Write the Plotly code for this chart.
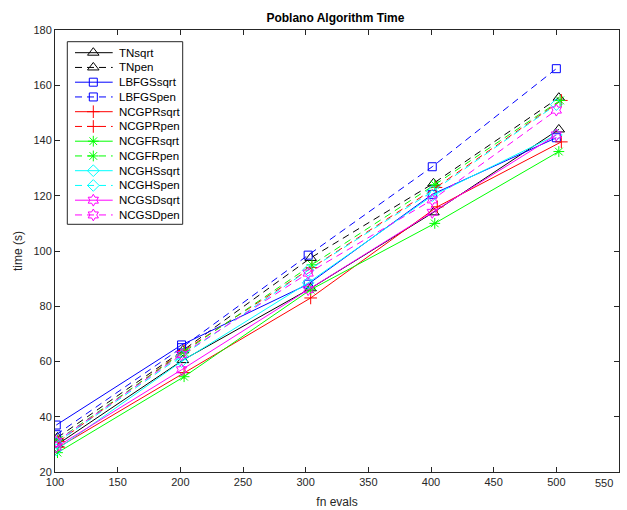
import plotly.graph_objects as go

# ---- data ----
names = ["TNsqrt", "TNpen", "LBFGSsqrt", "LBFGSpen", "NCGPRsqrt", "NCGPRpen",
         "NCGFRsqrt", "NCGFRpen", "NCGHSsqrt", "NCGHSpen", "NCGSDsqrt", "NCGSDpen"]

x_TNsqrt = [102, 202, 304, 402, 502]
x_TNpen = [102, 202, 304, 402, 502]
x_LBFGSsqrt = [101, 201, 302, 401, 500]
x_LBFGSpen = [101, 201, 302, 401, 500]
x_NCGPRsqrt = [103, 203, 304, 405, 504]
x_NCGPRpen = [103, 203, 305, 404, 504]
x_NCGFRsqrt = [102, 203, 304, 403, 502]
x_NCGFRpen = [102, 203, 305, 403, 503]
x_NCGHSsqrt = [101, 201, 302, 401, 500]
x_NCGHSpen = [101, 201, 302, 401, 500]
x_NCGSDsqrt = [101, 201, 302, 401, 500]
x_NCGSDpen = [101, 201, 302, 401, 500]

y_TNsqrt = [30, 60.5, 86.5, 114, 144]
y_TNpen = [32.5, 64, 97.5, 124.5, 155.5]
y_LBFGSsqrt = [37, 66, 88, 120.5, 141]
y_LBFGSpen = [33.5, 65, 98.5, 130.5, 166]
y_NCGPRsqrt = [29, 56, 83, 116, 139.5]
y_NCGPRpen = [31, 64, 94, 123, 154.5]
y_NCGFRsqrt = [27, 54.5, 86, 110, 136]
y_NCGFRpen = [31.5, 63.5, 95, 124, 154.5]
y_NCGHSsqrt = [28, 60, 88.5, 120, 142]
y_NCGHSpen = [30.5, 62, 93, 121.5, 153]
y_NCGSDsqrt = [29, 57, 86, 114, 142]
y_NCGSDpen = [31, 62.5, 92, 118.5, 151]

xs = [x_TNsqrt, x_TNpen, x_LBFGSsqrt, x_LBFGSpen, x_NCGPRsqrt, x_NCGPRpen,
      x_NCGFRsqrt, x_NCGFRpen, x_NCGHSsqrt, x_NCGHSpen, x_NCGSDsqrt, x_NCGSDpen]
ys = [y_TNsqrt, y_TNpen, y_LBFGSsqrt, y_LBFGSpen, y_NCGPRsqrt, y_NCGPRpen,
      y_NCGFRsqrt, y_NCGFRpen, y_NCGHSsqrt, y_NCGHSpen, y_NCGSDsqrt, y_NCGSDpen]

x_ticks = [100, 150, 200, 250, 300, 350, 400, 450, 500, 550]
x_ticktext = ["100", "150", "200", "250", "300", "350", "400", "450", "500", ""]
last_x_label = "550"
y_ticks = [20, 40, 60, 80, 100, 120, 140, 160, 180]

# ---- styles ----
FONT = "Liberation Sans, Arial, sans-serif"
colors = ["#000000", "#000000", "#0000ff", "#0000ff", "#ff0000", "#ff0000",
          "#00ff00", "#00ff00", "#00ffff", "#00ffff", "#ff00ff", "#ff00ff"]
symbols = ["triangle-up-open", "triangle-up-open", "square-open", "square-open",
           "cross-thin-open", "cross-thin-open", "asterisk-open", "asterisk-open",
           "diamond-open", "diamond-open", "hexagram-open", "hexagram-open"]
sizes = [10, 10, 8, 8, 9, 9, 9, 9, 9, 9, 9, 9]
dashes = ["solid", "7px,5px"] * 6

# plot area in pixels
PL, PR, PT, PB = 55, 619, 30, 472
W, H = 627, 510

fig = go.Figure()
for n, x, y, c, s, sz, d in zip(names, xs, ys, colors, symbols, sizes, dashes):
    fig.add_trace(go.Scatter(
        x=x, y=y, name=n, mode="lines+markers", showlegend=False,
        line=dict(color=c, width=1, dash=d),
        marker=dict(symbol=s, size=sz, color=c, line=dict(color=c, width=1)),
    ))

# ---- compact legend drawn on an overlay axis measured in pixels ----
L_X0, L_X1, L_Y0, L_Y1 = 67.3, 182.7, 41.7, 224.3
ROW0, ROWSTEP = 52.7, 14.75
SAMPLE_X0, SAMPLE_X1, MARK_X, TEXT_X = 75, 112.7, 93.3, 116.5

fig.add_shape(type="rect", xref="x2", yref="y2", x0=L_X0, x1=L_X1, y0=L_Y0, y1=L_Y1,
              line=dict(color="#262626", width=1), fillcolor="white", layer="below")
for i, (n, c, s, sz, d) in enumerate(zip(names, colors, symbols, sizes, dashes)):
    yy = ROW0 + i * ROWSTEP
    fig.add_trace(go.Scatter(
        x=[SAMPLE_X0, SAMPLE_X1], y=[yy, yy], mode="lines", xaxis="x2", yaxis="y2",
        showlegend=False, hoverinfo="skip", line=dict(color=c, width=1, dash=d)))
    fig.add_trace(go.Scatter(
        x=[MARK_X], y=[yy], mode="markers", xaxis="x2", yaxis="y2",
        showlegend=False, hoverinfo="skip",
        marker=dict(symbol=s, size=sz, color=c, line=dict(color=c, width=1))))
    fig.add_annotation(x=TEXT_X, y=yy, xref="x2", yref="y2", text=n, showarrow=False,
                       xanchor="left", yanchor="middle",
                       font=dict(family=FONT, size=11.5, color="#000000"))

# last x tick label, pulled inside the figure as in the reference
fig.add_annotation(x=(604 - PL) / (PR - PL), y=-11 / (PB - PT), xref="paper", yref="paper",
                   text=last_x_label, showarrow=False, xanchor="center", yanchor="middle",
                   font=dict(family=FONT, size=11, color="#262626"))

axis_common = dict(
    showline=True, linecolor="#262626", linewidth=1, mirror="ticks",
    ticks="inside", ticklen=5, tickcolor="#262626", showgrid=False, zeroline=False,
    automargin=False,
    tickfont=dict(family=FONT, size=11, color="#262626"),
)

fig.update_layout(
    width=W, height=H,
    margin=dict(l=PL, r=W - PR, t=PT, b=H - PB, autoexpand=False),
    paper_bgcolor="white", plot_bgcolor="white",
    font=dict(family=FONT, size=11, color="#000000"),
    title=dict(text="<b>Poblano Algorithm Time</b>", x=0.535, xanchor="center",
               y=0.966, yanchor="middle",
               font=dict(family=FONT, size=12, color="#000000")),
    xaxis=dict(range=[100, 550], tickvals=x_ticks, ticktext=x_ticktext,
               title=dict(text="fn evals", standoff=10, font=dict(size=12, color="#262626")),
               **axis_common),
    yaxis=dict(range=[20, 180], tickvals=y_ticks,
               title=dict(text="time (s)", standoff=8, font=dict(size=12, color="#262626")),
               **axis_common),
    xaxis2=dict(overlaying="x", range=[PL, PR], visible=False, fixedrange=True),
    yaxis2=dict(overlaying="y", range=[PB, PT], visible=False, fixedrange=True),
    showlegend=False,
)

fig.write_html("out.html")
